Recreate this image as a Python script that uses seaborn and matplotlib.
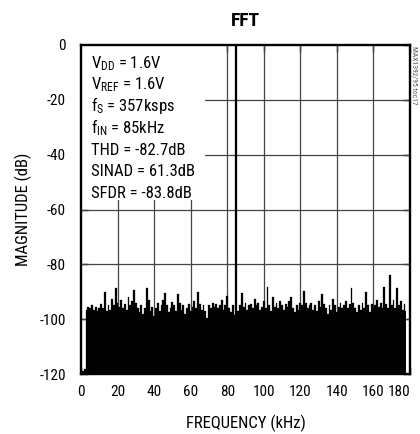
import numpy as np
import pandas as pd
import matplotlib
matplotlib.use("Agg")
import matplotlib.pyplot as plt
from matplotlib.patches import Rectangle
import seaborn as sns

# ---- data ----
freq_khz = list(range(0, 179))
magnitude_db = [
    -119, -119, -118, -96.5, -95.5, -96, -95, -96.5, -95.5, -97,
    -96, -94.5, -96, -90, -97, -95, -96.5, -92.5, -95, -88.7,
    -94, -95.5, -93, -96, -94.5, -96.5, -92, -95, -93.5, -89.3,
    -94, -96, -97.5, -95, -98, -96, -88.7, -93, -97, -95.5,
    -99, -96, -94, -97, -95, -93, -90.6, -95, -97.5, -96,
    -93.6, -95, -97, -90.9, -94, -96.5, -95, -98, -96, -94.5,
    -97, -95.5, -93.5, -96, -90, -94.5, -96.5, -95, -97, -99.5,
    -95, -96, -94, -95.5, -94.5, -96, -95, -93, -96.5, -95,
    -91.5, -96, -97.5, -95, -98.5, 0, -97, -95, -90.6, -95.5,
    -94, -96.5, -95, -94.5, -96, -92.8, -95, -94, -96.5, -95.5,
    -93.5, -96, -88.1, -95, -97, -92, -95.5, -94, -96, -93.5,
    -95, -96.5, -94.5, -95.5, -93.5, -92, -96, -97.5, -95, -96.5,
    -94, -95, -89.8, -94, -96, -95, -94.1, -96.5, -95, -97,
    -93.5, -95.5, -91, -94.5, -96, -98, -95, -96.5, -92.6, -95,
    -97.5, -95.5, -94, -96, -95, -93.5, -96, -94.5, -88.7, -94,
    -96, -97.5, -95, -96.5, -94, -96, -90, -95, -97.5, -94.5,
    -96, -95, -93, -95.5, -94, -96, -88.1, -94.5, -96, -84,
    -95, -93, -96, -88.7, -95, -93.5, -96.5, -94.3, -97,
]
x_ticks = [0, 20, 40, 60, 80, 100, 120, 140, 160, 180]
y_ticks = [0, -20, -40, -60, -80, -100, -120]
info_lines = [
    r"$\mathregular{V_{DD}}$ = 1.6V",
    r"$\mathregular{V_{REF}}$ = 1.6V",
    r"$\mathregular{f_{S}}$ = 357ksps",
    r"$\mathregular{f_{IN}}$ = 85kHz",
    "THD = -82.7dB",
    "SINAD = 61.3dB",
    "SFDR = -83.8dB",
]

df = pd.DataFrame({"freq": freq_khz, "mag": magnitude_db})

sns.set_style("ticks")
FONT = ["Roboto Condensed", "Liberation Sans", "DejaVu Sans"]
plt.rcParams["font.family"] = FONT
plt.rcParams["axes.unicode_minus"] = False
plt.rcParams["mathtext.default"] = "regular"
plt.rcParams["text.color"] = "black"
plt.rcParams["axes.labelcolor"] = "black"

W, H = 420, 434
fig = plt.figure(figsize=(W / 100, H / 100), dpi=100)
L, R, T, B = 81, 410, 45, 374
ax = fig.add_axes([L / W, 1 - B / H, (R - L) / W, (B - T) / H])

# grid
for xv in x_ticks[1:-1]:
    ax.axvline(xv, color="#444444", lw=0.9, zorder=1)
for yv in y_ticks[1:-1]:
    ax.axhline(yv, color="#444444", lw=0.9, zorder=1)

# spectrum filled down to the -120 dB floor
ax.fill_between(df["freq"], df["mag"], -120, step="mid", color="black",
                lw=0, zorder=2)
sns.lineplot(data=df, x="freq", y="mag", drawstyle="steps-mid",
             color="black", lw=0.2, ax=ax, zorder=3)

ax.set_xlim(0, 180)
ax.set_ylim(-120, 0)
ax.set_xticks(x_ticks)
ax.set_yticks(y_ticks)
ax.tick_params(direction="in", length=5, width=1, top=True, right=True,
               labelsize=11, colors="black")
ax.tick_params(axis="x", pad=8)
ax.tick_params(axis="y", pad=11)
xl = ax.get_xticklabels()
xl[-1].set_ha("right")
for s in ax.spines.values():
    s.set_linewidth(1.7)
    s.set_color("black")
    s.set_zorder(6)

ax.set_xlabel("FREQUENCY (kHz)", fontsize=12, labelpad=11)
ax.set_ylabel("MAGNITUDE (dB)", fontsize=12, labelpad=5)
ax.set_title("FFT", fontsize=14, fontweight="bold", pad=14, color="black")

# white panel behind the text block
ax.add_patch(Rectangle((0, 1 - (200 - T) / (B - T)), (205 - L) / (R - L),
                       (200 - T) / (B - T), transform=ax.transAxes,
                       facecolor="white", edgecolor="none", zorder=4))
for i, line in enumerate(info_lines):
    yb = 68 + 21.7 * i
    ax.text((91 - L) / (R - L), 1 - (yb - T) / (B - T), line,
            transform=ax.transAxes, fontsize=12, va="baseline",
            ha="left", zorder=5)

fig.text(414 / W, 1 - 46 / H, "MAX1392/95 toc17", rotation=-90,
         fontsize=5.5, color="#555555", va="top", ha="center")

fig.savefig("out.png", dpi=100)
